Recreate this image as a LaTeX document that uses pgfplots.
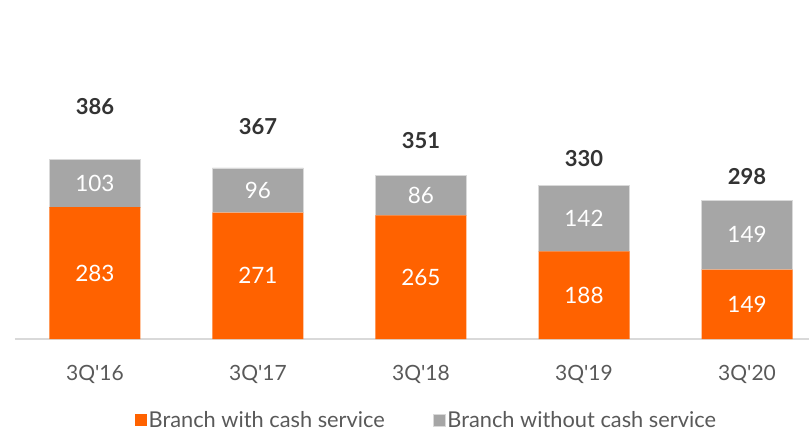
\documentclass[border=0pt]{standalone}
\usepackage{pgfplots}
\pgfplotsset{compat=1.18}
\usepackage{pgfplotstable}
\usepackage{fontspec}
\setmainfont{Lato}
\definecolor{ingorange}{HTML}{FF6200}
\definecolor{inggray}{HTML}{A6A6A6}
\definecolor{txtgray}{HTML}{595959}
\definecolor{totgray}{HTML}{333333}
\definecolor{axgray}{HTML}{D9D9D9}

\pgfplotstableread{
x orange gray total labely
0 283 103 386 499
1 271 96 367 455
2 265 86 351 425
3 188 142 330 388
4 149 149 298 349
}\datatable

\begin{document}
\begin{tikzpicture}[x=1pt,y=1pt]
\path[use as bounding box] (-15,-92) rectangle (794,339);
\begin{axis}[
  at={(0,0)}, anchor=south west,
  scale only axis,
  width=794pt, height=339pt,
  xmin=-0.49, xmax=4.38,
  ymin=0, ymax=727,
  axis x line*=bottom,
  axis y line=none,
  x axis line style={draw=axgray, line width=1.5pt, -},
  xtick={0,1,2,3,4},
  xticklabels={3Q\textquotesingle16,3Q\textquotesingle17,3Q\textquotesingle18,3Q\textquotesingle19,3Q\textquotesingle20},
  major tick length=0pt,
  xticklabel style={font=\fontsize{21}{25}\selectfont, text=txtgray, yshift=-23pt},
  ybar stacked,
  bar width=91pt,
  legend style={at={(0.518,-81pt)}, anchor=center, draw=none, fill=none, inner sep=0pt,
    legend columns=2, font=\fontsize{21.8}{25}\selectfont, text=txtgray,
    /tikz/every even column/.append style={column sep=46pt}},
  legend image code/.code={\fill[#1] (0pt,-6pt) rectangle (12pt,6pt);},
  clip=false,
]
\addplot[fill=ingorange, draw=none] table[x=x, y=orange] {\datatable};
\addlegendentry{Branch with cash service}
\addplot[fill=inggray, draw=black!15, line width=0.6pt] table[x=x, y=gray] {\datatable};
\addlegendentry{Branch without cash service}
\end{axis}
\begin{axis}[
  at={(0,0)}, anchor=south west,
  scale only axis,
  width=794pt, height=339pt,
  xmin=-0.49, xmax=4.38,
  ymin=0, ymax=727,
  hide axis, clip=false,
  /pgf/number format/assume math mode=true,
]
\addplot[only marks, mark=none, nodes near coords, point meta=explicit,
  nodes near coords align={center},
  every node near coord/.append style={font=\fontsize{22.5}{26}\selectfont, text=white}]
  table[x=x, y expr=\thisrow{orange}/2, meta=orange] {\datatable};
\addplot[only marks, mark=none, nodes near coords, point meta=explicit,
  nodes near coords align={center},
  every node near coord/.append style={font=\fontsize{22.5}{26}\selectfont, text=white}]
  table[x=x, y expr=\thisrow{orange}+\thisrow{gray}/2, meta=gray] {\datatable};
\addplot[only marks, mark=none, nodes near coords, point meta=explicit,
  nodes near coords align={center},
  every node near coord/.append style={font=\bfseries\fontsize{22}{26}\selectfont, text=totgray}]
  table[x=x, y=labely, meta=total] {\datatable};
\end{axis}
\end{tikzpicture}
\end{document}
